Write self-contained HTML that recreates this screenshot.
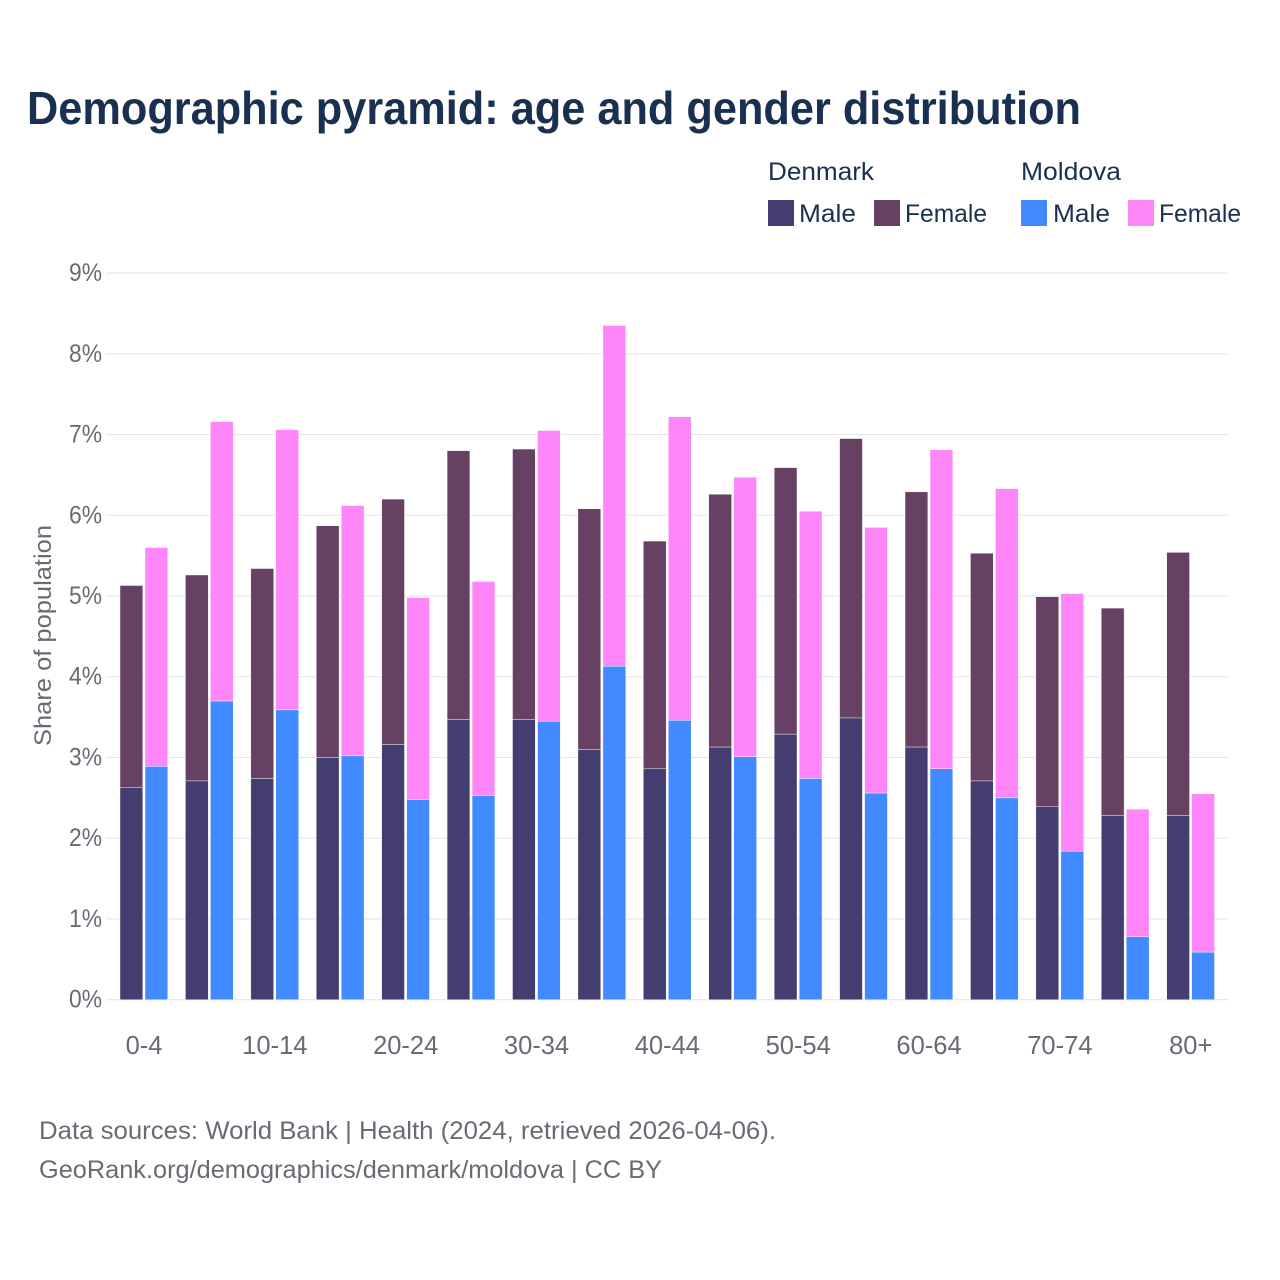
<!DOCTYPE html>
<html lang="en">
<head>
<meta charset="utf-8">
<title>Demographic pyramid: age and gender distribution</title>
<style>
html,body{margin:0;padding:0;background:#fff;width:1280px;height:1280px;overflow:hidden}
svg{display:block}
text{font-family:"Liberation Sans",sans-serif}
</style>
</head>
<body>
<svg id="chart" xmlns="http://www.w3.org/2000/svg" width="1280" height="1280" viewBox="0 0 1280 1280">
  <rect width="1280" height="1280" fill="#fff"/>
  <text x="27" y="124" font-size="46" font-weight="700" fill="#1a3050" textLength="1054" lengthAdjust="spacingAndGlyphs">Demographic pyramid: age and gender distribution</text>

  <g font-size="25" fill="#1a3050">
    <text x="768" y="180" textLength="106" lengthAdjust="spacingAndGlyphs">Denmark</text>
    <text x="1021" y="180" textLength="100" lengthAdjust="spacingAndGlyphs">Moldova</text>
    <rect x="768" y="200" width="26" height="26" fill="#433e6f"/>
    <text x="799" y="222" textLength="57" lengthAdjust="spacingAndGlyphs">Male</text>
    <rect x="874" y="200" width="26" height="26" fill="#674163"/>
    <text x="905" y="222" textLength="82" lengthAdjust="spacingAndGlyphs">Female</text>
    <rect x="1021" y="200" width="26" height="26" fill="#418aff"/>
    <text x="1053" y="222" textLength="57" lengthAdjust="spacingAndGlyphs">Male</text>
    <rect x="1128" y="200" width="26" height="26" fill="#ff86f8"/>
    <text x="1159" y="222" textLength="82" lengthAdjust="spacingAndGlyphs">Female</text>
  </g>

  <g id="grid"></g>
  <g id="yticks"></g>
  <g id="bars"></g>
  <g id="xticks"></g>

  <text transform="translate(51,746) rotate(-90)" font-size="24" fill="#6a6a75" textLength="221" lengthAdjust="spacingAndGlyphs">Share of population</text>

  <g font-size="25" fill="#6a6a75">
    <text x="39" y="1139" textLength="737" lengthAdjust="spacingAndGlyphs">Data sources: World Bank | Health (2024, retrieved 2026-04-06).</text>
    <text x="39" y="1178" textLength="623" lengthAdjust="spacingAndGlyphs">GeoRank.org/demographics/denmark/moldova | CC BY</text>
  </g>
</svg>
<script>
const categories = ["0-4","5-9","10-14","15-19","20-24","25-29","30-34","35-39","40-44","45-49","50-54","55-59","60-64","65-69","70-74","75-79","80+"];
const visibleCategories = ["0-4","10-14","20-24","30-34","40-44","50-54","60-64","70-74","80+"];
const denmarkMale = [2.63,2.71,2.74,3.00,3.16,3.47,3.47,3.10,2.86,3.13,3.29,3.49,3.13,2.71,2.39,2.28,2.28];
const denmarkFemale = [2.50,2.55,2.60,2.87,3.04,3.33,3.35,2.98,2.82,3.13,3.30,3.46,3.16,2.82,2.60,2.57,3.26];
const moldovaMale = [2.89,3.70,3.59,3.02,2.48,2.53,3.45,4.13,3.46,3.01,2.74,2.56,2.86,2.50,1.84,0.78,0.59];
const moldovaFemale = [2.71,3.46,3.47,3.10,2.50,2.65,3.60,4.22,3.76,3.46,3.31,3.29,3.95,3.83,3.19,1.58,1.96];
const yTicks = [0,1,2,3,4,5,6,7,8,9];

const NS = "http://www.w3.org/2000/svg";
const plotLeft = 110, plotRight = 1228;
const bandStart = 111.3, bandStep = 65.42;
const barWidth = 22.8, barOffsetA = 8.7, barOffsetB = 33.7;
const yBase = 999.7, yUnit = 80.74;
function yScale(v){ return yBase - v * yUnit; }
function xBand(i){ return bandStart + i * bandStep; }

const gridGroup = document.getElementById("grid");
const yTickGroup = document.getElementById("yticks");
const barGroup = document.getElementById("bars");
const xTickGroup = document.getElementById("xticks");

yTicks.forEach(function(t){
  const line = document.createElementNS(NS, "line");
  
  
  line.setAttribute("x1", plotLeft - 4);
  line.setAttribute("x2", plotRight);
  line.setAttribute("y1", yScale(t));
  line.setAttribute("y2", yScale(t));
  line.setAttribute("stroke", "#e6e6ee");
  line.setAttribute("stroke-width", "1.1");
  gridGroup.appendChild(line);

  const label = document.createElementNS(NS, "text");
  
  
  label.setAttribute("x", 69);
  label.setAttribute("y", yScale(t) + 8);
  label.setAttribute("font-size", "25");
  label.setAttribute("fill", "#6a6a75");
  label.setAttribute("textLength", "33");
  label.setAttribute("lengthAdjust", "spacingAndGlyphs");
  label.textContent = t + "%";
  yTickGroup.appendChild(label);
});

function addBar(x, v0, v1, fill, name){
  const r = document.createElementNS(NS, "rect");
  
  
  r.setAttribute("x", x);
  r.setAttribute("width", barWidth);
  r.setAttribute("y", yScale(v1));
  r.setAttribute("height", yScale(v0) - yScale(v1));
  r.setAttribute("fill", fill);
  r.setAttribute("stroke", "#fff");
  r.setAttribute("stroke-width", "0.4");
  barGroup.appendChild(r);
}

categories.forEach(function(cat, i){
  const xa = xBand(i) + barOffsetA;
  const xb = xBand(i) + barOffsetB;
  addBar(xa, 0, denmarkMale[i], "#433e6f", "bar-denmark-male");
  addBar(xa, denmarkMale[i], denmarkMale[i] + denmarkFemale[i], "#674163", "bar-denmark-female");
  addBar(xb, 0, moldovaMale[i], "#418aff", "bar-moldova-male");
  addBar(xb, moldovaMale[i], moldovaMale[i] + moldovaFemale[i], "#ff86f8", "bar-moldova-female");
  if (visibleCategories.indexOf(cat) >= 0) {
    const label = document.createElementNS(NS, "text");
    
    
    label.setAttribute("x", xBand(i) + 32.7);
    label.setAttribute("y", 1054);
    label.setAttribute("font-size", "25.5");
    label.setAttribute("fill", "#6a6a75");
    label.setAttribute("text-anchor", "middle");
    label.textContent = cat;
    xTickGroup.appendChild(label);
  }
});
</script>
</body>
</html>
